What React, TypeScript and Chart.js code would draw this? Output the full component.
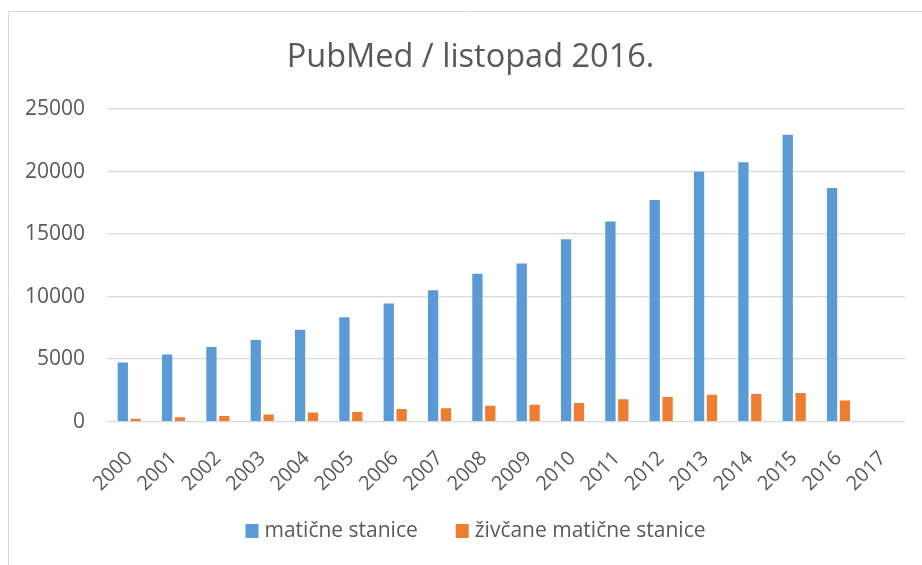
import React, { useEffect, useRef } from "react";
import { Chart, registerables } from "chart.js";

Chart.register(...registerables);

const categories = ["2000","2001","2002","2003","2004","2005","2006","2007","2008","2009","2010","2011","2012","2013","2014","2015","2016","2017"];
const maticneStanice = [4730, 5380, 5970, 6540, 7350, 8340, 9440, 10510, 11830, 12650, 14580, 16000, 17720, 19990, 20750, 22940, 18680, null];
const zivcaneMaticneStanice = [240, 350, 455, 570, 730, 780, 1020, 1080, 1270, 1350, 1490, 1790, 1970, 2160, 2220, 2300, 1700, null];
const seriesNames = ["matične stanice", "živčane matične stanice"];
const seriesColors = ["#5B9BD5", "#ED7D31"];
const titleText = "PubMed / listopad 2016.";

const FONT = "'Open Sans', 'DejaVu Sans', sans-serif";
const TEXT = "#595959";

const frame = {
  id: "frame",
  beforeDraw(chart: any) {
    const { ctx, width, height } = chart;
    ctx.save();
    ctx.fillStyle = "#ffffff";
    ctx.fillRect(0, 0, width, height);
    ctx.strokeStyle = "#d9d9d9";
    ctx.lineWidth = 1;
    ctx.beginPath();
    ctx.moveTo(8.5, height);
    ctx.lineTo(8.5, 11.5);
    ctx.lineTo(width, 11.5);
    ctx.stroke();
    ctx.restore();
  },
};

// Title and legend centred on the (wider) chart frame, as in the original.
const header = {
  id: "header",
  afterDraw(chart: any) {
    const { ctx } = chart;
    ctx.save();
    ctx.fillStyle = TEXT;
    ctx.textBaseline = "middle";
    ctx.textAlign = "center";
    ctx.font = `32.5px ${FONT}`;
    ctx.fillText(titleText, 470.5, 58);

    ctx.font = `21px ${FONT}`;
    ctx.textAlign = "left";
    const box = 13;
    const boxGap = 6;
    const itemGap = 38;
    const items = chart.data.datasets.map((d: any) => ({
      label: d.label as string,
      color: d.backgroundColor as string,
      w: ctx.measureText(d.label).width,
    }));
    const total =
      items.reduce((s: number, it: any) => s + box + boxGap + it.w, 0) +
      itemGap * (items.length - 1);
    let x = 475.5 - total / 2;
    const cy = 531;
    items.forEach((it: any) => {
      ctx.fillStyle = it.color;
      ctx.fillRect(x, cy - 7, box, box + 1);
      ctx.fillStyle = TEXT;
      ctx.fillText(it.label, x + box + boxGap, cy);
      x += box + boxGap + it.w + itemGap;
    });
    ctx.restore();
  },
};

export default function App() {
  const ref = useRef<HTMLCanvasElement>(null);
  useEffect(() => {
    if (!ref.current) return;
    const chart = new Chart(ref.current, {
      type: "bar",
      data: {
        labels: categories,
        datasets: [
          {
            label: seriesNames[0],
            data: maticneStanice,
            backgroundColor: seriesColors[0],
            borderWidth: 0,
            categoryPercentage: 0.58,
            barPercentage: 0.8,
          },
          {
            label: seriesNames[1],
            data: zivcaneMaticneStanice,
            backgroundColor: seriesColors[1],
            borderWidth: 0,
            categoryPercentage: 0.58,
            barPercentage: 0.8,
          },
        ],
      },
      options: {
        animation: false,
        responsive: false,
        maintainAspectRatio: false,
        layout: { padding: { left: 3, right: 17, top: 109, bottom: 52 } },
        plugins: {
          title: { display: false },
          legend: { display: false },
          tooltip: { enabled: false },
        },
        scales: {
          x: {
            grid: { display: false },
            border: { display: false },
            ticks: {
              color: TEXT,
              font: { family: FONT, size: 20 },
              minRotation: 45,
              maxRotation: 45,
              padding: 17,
            },
          },
          y: {
            min: 0,
            max: 25000,
            ticks: {
              stepSize: 5000,
              color: TEXT,
              font: { family: FONT, size: 21 },
              padding: 22,
              callback: (v: any) => String(v),
            },
            grid: { color: "#d9d9d9", lineWidth: 1.3, drawTicks: false },
            border: { display: false },
          },
        },
      },
      plugins: [frame, header],
    });
    return () => chart.destroy();
  }, []);
  return (
    <canvas
      ref={ref}
      width={922}
      height={565}
      style={{ position: "fixed", left: 0, top: 0, width: 922, height: 565 }}
    />
  );
}
